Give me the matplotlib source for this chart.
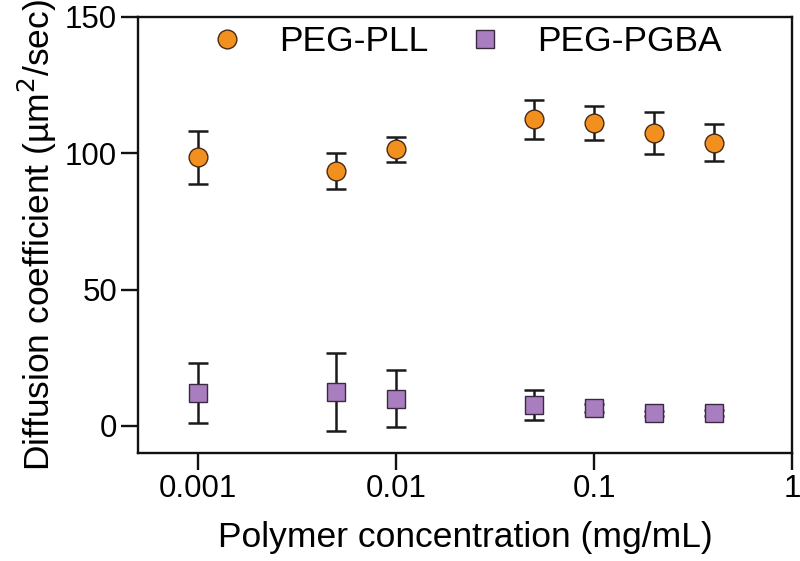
import matplotlib
matplotlib.use("Agg")
import matplotlib.pyplot as plt
from matplotlib.lines import Line2D

plt.rcParams['font.family'] = ['Liberation Sans', 'DejaVu Sans']

conc = [0.001, 0.005, 0.01, 0.05, 0.1, 0.2, 0.4]
pll_mean = [98.5, 93.5, 101.4, 112.4, 111.1, 107.4, 103.9]
pll_err = [9.8, 6.5, 4.5, 7.1, 6.1, 7.6, 6.9]
pgba_mean = [12.0, 12.5, 9.9, 7.6, 6.5, 4.5, 4.6]
pgba_err = [10.9, 14.3, 10.4, 5.5, 1.5, 1.0, 1.0]

xticks = [0.001, 0.01, 0.1, 1]
xticklabels = ['0.001', '0.01', '0.1', '1']
yticks = [0, 50, 100, 150]

fig = plt.figure(figsize=(8, 5.61), dpi=100)
ax = fig.add_axes([0.1725, 0.1925, 0.818, 0.7772])

ebkw = dict(fmt='none', ecolor='#1a1a1a', elinewidth=1.8, capsize=7, capthick=1.8, zorder=2)
ax.errorbar(conc, pll_mean, yerr=pll_err, **ebkw)
ax.errorbar(conc, pgba_mean, yerr=pgba_err, **ebkw)
ax.plot(conc, pll_mean, 'o', ms=13.5, mfc='#F2901F', mec='#4a2a10', mew=1.0, ls='none', zorder=3)
ax.plot(conc, pgba_mean, 's', ms=12.5, mfc='#A87EC0', mec='#3a2a40', mew=1.0, ls='none', zorder=3)

ax.set_xscale('log')
ax.set_xlim(0.0005, 1)
ax.set_ylim(-10, 150)
ax.set_xticks(xticks)
ax.set_xticklabels(xticklabels)
ax.minorticks_off()
ax.set_yticks(yticks)
ax.tick_params(axis='both', direction='out', length=12, width=1.7, labelsize=22.5, pad=3, color='#111111')
for s in ax.spines.values():
    s.set_linewidth(1.7)
    s.set_color('#111111')

ax.set_xlabel('Polymer concentration (mg/mL)', fontsize=25.5, labelpad=12)
ax.set_ylabel('Diffusion coefficient (µm$^2$/sec)', fontsize=25.5, labelpad=4)

handles = [
    Line2D([], [], marker='o', ms=13.5, mfc='#F2901F', mec='#4a2a10', mew=1.0, ls='none'),
    Line2D([], [], marker='s', ms=12.5, mfc='#A87EC0', mec='#3a2a40', mew=1.0, ls='none'),
]
ax.legend(handles, ['PEG-PLL', 'PEG-PGBA'], ncol=2, frameon=False, fontsize=25.5,
          loc='center left', bbox_to_anchor=(0.1094, 0.9427), borderaxespad=0, borderpad=0,
          handletextpad=0.97, columnspacing=1.08, handlelength=1.0)

fig.savefig('out.png', dpi=100)
